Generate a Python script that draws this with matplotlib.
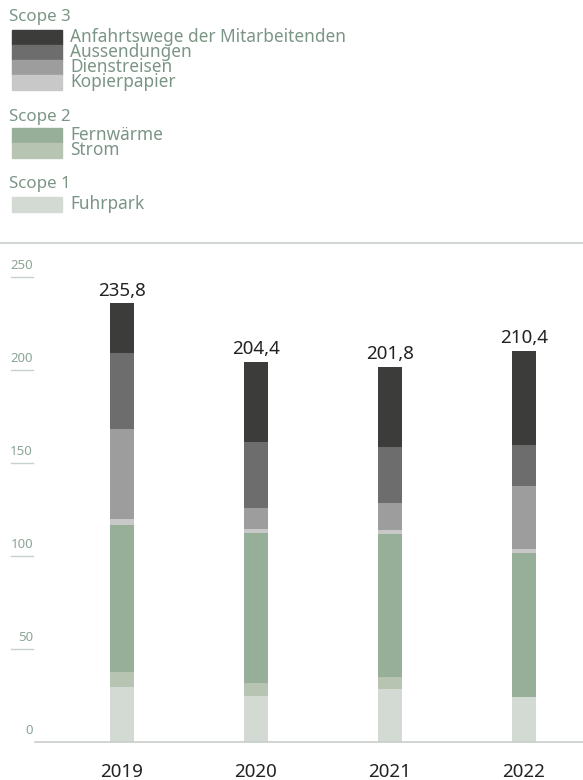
import numpy as np
import matplotlib.pyplot as plt
from matplotlib.patches import Rectangle
from matplotlib.transforms import blended_transform_factory

plt.rcParams['font.family'] = ['Noto Sans', 'DejaVu Sans']

# data (t CO2e), bottom to top
years = ['2019', '2020', '2021', '2022']
fuhrpark = [29.7, 24.9, 28.3, 24.2]
strom = [7.7, 6.8, 6.9, 0.0]
fernwaerme = [79.3, 80.7, 76.5, 77.4]
kopierpapier = [3.2, 2.3, 2.5, 2.4]
dienstreisen = [48.2, 10.9, 14.2, 33.6]
aussendungen = [41.0, 35.9, 30.2, 21.9]
anfahrtswege = [26.7, 42.9, 43.2, 50.9]
totals = [235.8, 204.4, 201.8, 210.4]

series = [
    ('Fuhrpark', fuhrpark, '#d3d9d3'),
    ('Strom', strom, '#b7c4b2'),
    ('Fernwärme', fernwaerme, '#97ae98'),
    ('Kopierpapier', kopierpapier, '#c8c8c8'),
    ('Dienstreisen', dienstreisen, '#9d9d9d'),
    ('Aussendungen', aussendungen, '#6d6d6d'),
    ('Anfahrtswege der Mitarbeitenden', anfahrtswege, '#3c3c3a'),
]
colors = {name: c for name, _, c in series}

W, H = 583, 780
fig = plt.figure(figsize=(W / 100, H / 100), dpi=100)

label_col = '#7b9585'
tick_col = '#8aa596'

# ---- legend (drawn by hand, in pixel coords from top-left) ----
def px(x, y):
    return x / W, 1 - y / H

groups = [
    ('Scope 3', 17, ['Anfahrtswege der Mitarbeitenden', 'Aussendungen', 'Dienstreisen', 'Kopierpapier'], 30),
    ('Scope 2', 117, ['Fernwärme', 'Strom'], 128),
    ('Scope 1', 184, ['Fuhrpark'], 197),
]
for title, ty, names, y0 in groups:
    fig.text(*px(9, ty), title, color=label_col, fontsize=12.2, va='center', ha='left')
    for k, name in enumerate(names):
        top = y0 + k * 15
        fig.patches.append(Rectangle(px(12, top + 15), 50 / W, 15 / H,
                                     transform=fig.transFigure, color=colors[name]))
        fig.text(*px(70, top + 7), name, color=label_col, fontsize=12.4, va='center', ha='left')

# separator line
fig.add_artist(plt.Line2D([0, 1], [1 - 243 / H, 1 - 243 / H], transform=fig.transFigure,
                          color='#c8cec9', linewidth=1.2))

# ---- bar chart ----
ax = fig.add_axes([35 / W, 38 / H, 548 / W, 465 / H])
x = np.arange(len(years))
bottom = np.zeros(len(years))
for name, vals, c in series:
    ax.bar(x, vals, width=0.18, bottom=bottom, color=c, edgecolor='none')
    bottom += np.array(vals)

for i, t in enumerate(totals):
    ax.text(x[i], t + 2, f'{t:.1f}'.replace('.', ','), ha='center', va='bottom',
            fontsize=13.5, color='#222222')

ax.set_xlim(-0.649, 3.44)
ax.set_ylim(0, 250)
for s in ax.spines.values():
    s.set_visible(False)
ax.set_yticks([])
ax.set_xticks(x)
ax.set_xticklabels(years, fontsize=13.5, color='#222222')
ax.tick_params(axis='x', length=0, pad=15)

ax.axhline(0, color='#c8cec9', linewidth=1.2, clip_on=False)

trans = blended_transform_factory(fig.transFigure, ax.transData)
for v in [50, 100, 150, 200, 250]:
    ax.plot([11 / W, 33 / W], [v, v], transform=trans, color='#c8d2cc', linewidth=1, clip_on=False)
    ax.text(33 / W, v + 2.5, str(v), transform=trans, ha='right', va='bottom',
            fontsize=9.5, color=tick_col)
ax.text(33 / W, 2.5, '0', transform=trans, ha='right', va='bottom', fontsize=9.5, color=tick_col)

fig.savefig('out.png', dpi=100)
